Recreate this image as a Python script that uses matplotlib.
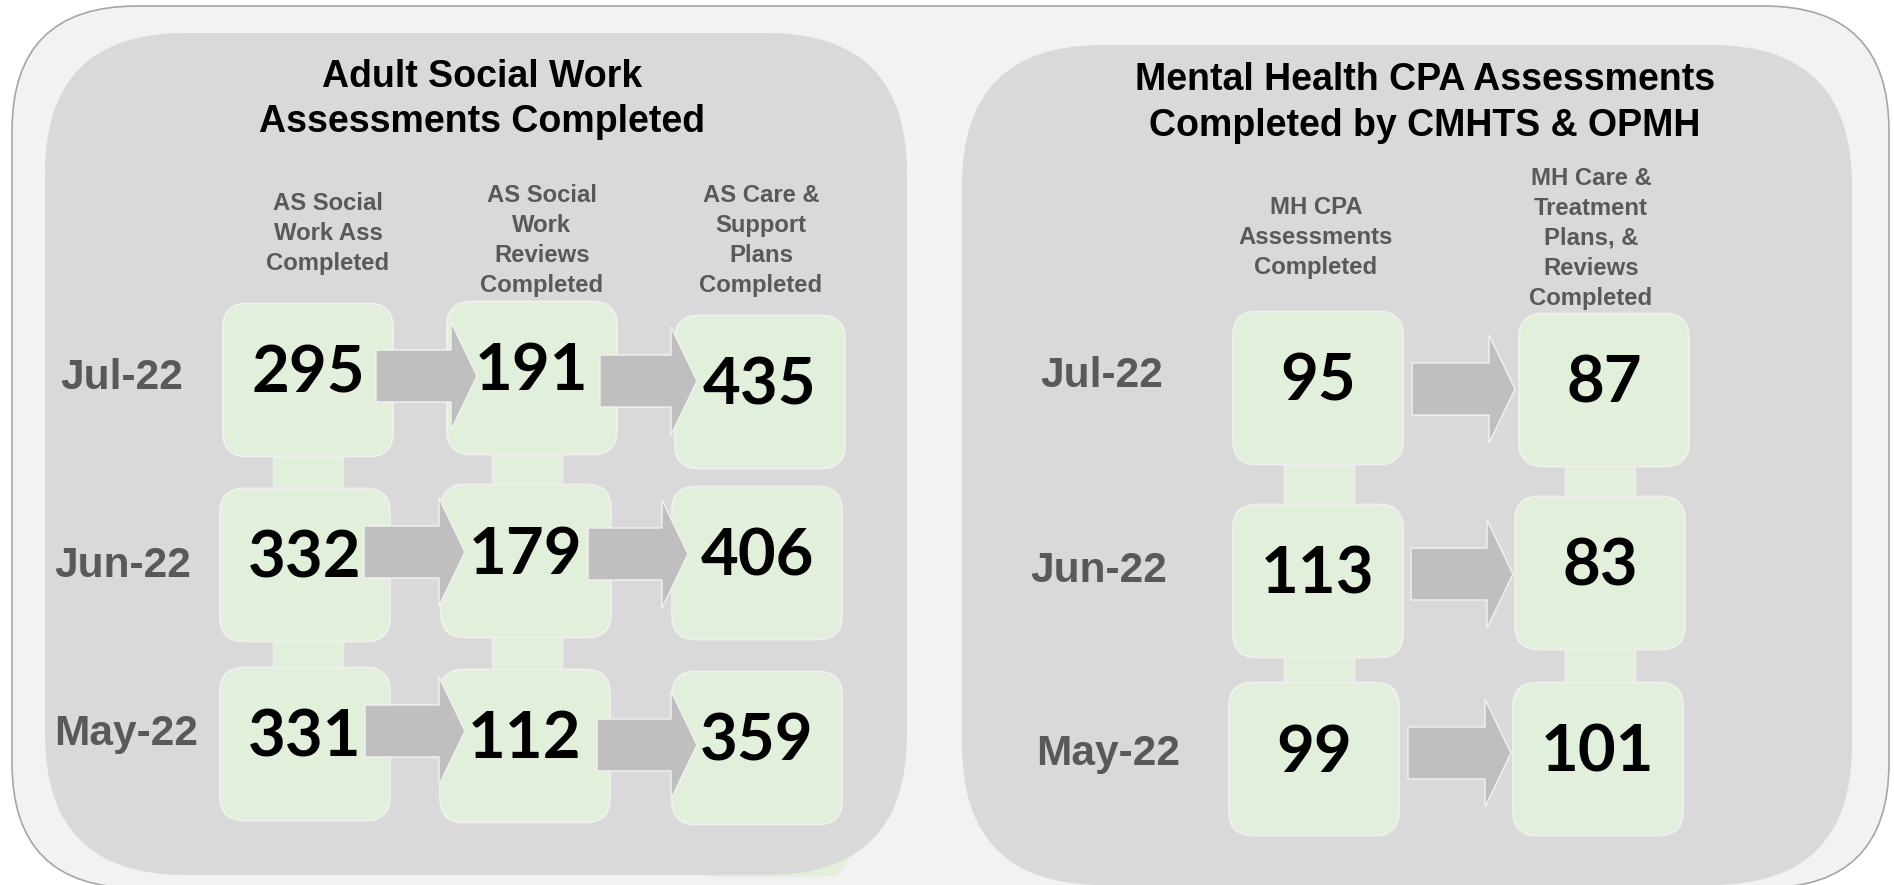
import matplotlib.pyplot as plt
from matplotlib.patches import FancyBboxPatch, Polygon, Rectangle

plt.rcParams["font.family"] = ["Liberation Sans", "DejaVu Sans"]

# ---- data ----
months = ["Jul-22", "Jun-22", "May-22"]

as_title = "Adult Social Work\nAssessments Completed"
as_headers = ["AS Social\nWork Ass\nCompleted",
              "AS Social\nWork\nReviews\nCompleted",
              "AS Care &\nSupport\nPlans\nCompleted"]
as_ass_completed = [295, 332, 331]
as_reviews_completed = [191, 179, 112]
as_plans_completed = [435, 406, 359]

mh_title = "Mental Health CPA Assessments\nCompleted by CMHTS & OPMH"
mh_headers = ["MH CPA\nAssessments\nCompleted",
              "MH Care &\nTreatment\nPlans, &\nReviews\nCompleted"]
mh_cpa_completed = [95, 113, 99]
mh_plans_completed = [87, 83, 101]

# ---- layout (pixels, y down) ----
W, H = 1894, 885
BOX_W, BOX_H = 170, 153
GREEN = "#e2efda"
PANEL = "#d9d9d9"
GREY_TXT = "#595959"
ARROW = "#bfbfbf"

as_boxes = [[(308, 380), (532, 378), (760, 392)],
            [(305, 565), (526, 561), (757, 563)],
            [(305, 744), (525, 746), (757, 748)]]
mh_boxes = [[(1318, 388), (1604, 390)],
            [(1318, 581), (1600, 573)],
            [(1314, 759), (1598, 759)]]
as_arrows = [[(376, 477, 376), (600, 697, 381)],
             [(364, 465, 552), (588, 688, 554)],
             [(365, 465, 731), (597, 697, 745)]]
mh_arrows = [[(1412, 1515, 389)],
             [(1411, 1513, 574)],
             [(1408, 1511, 753)]]
as_links_x = [308, 527]
mh_links_x = [1319, 1600]
as_head_x, as_head_y = [328, 542, 761], [210, 202, 202]
mh_head_x, mh_head_y = [1316, 1591], [214, 185]
as_month_xy = [(122, 389), (123, 577), (126, 745)]
mh_month_xy = [(1102, 387), (1099, 582), (1108, 765)]


def lines(ax, x, y0, text, step, **kw):
    # one text per line so the line step is exact
    for i, s in enumerate(text.split("\n")):
        ax.text(x, y0 + i * step, s, ha="center", va="baseline", **kw)


def rbox(ax, x0, y0, w, h, r, fc, ec="none", lw=0, z=1):
    ax.add_patch(FancyBboxPatch((x0, y0), w, h,
                                boxstyle=f"round,pad=0,rounding_size={r}",
                                fc=fc, ec=ec, lw=lw, zorder=z))


def arrow(ax, x0, tip, yc, bh=26, hh=54, hl=26):
    pts = [(x0, yc - bh), (tip - hl, yc - bh), (tip - hl, yc - hh), (tip, yc),
           (tip - hl, yc + hh), (tip - hl, yc + bh), (x0, yc + bh)]
    ax.add_patch(Polygon(pts, closed=True, fc=ARROW, ec="#f2f2f2", lw=1, zorder=5))


def panel(ax, boxes, arrows, links_x, values, heads, head_x, head_y, month_xy):
    # vertical links behind the boxes
    for r in range(len(boxes) - 1):
        for c, lx in enumerate(links_x):
            ya, yb = boxes[r][c][1], boxes[r + 1][c][1]
            ax.add_patch(Rectangle((lx - 35, ya), 70, yb - ya, fc=GREEN,
                                   ec="#eeeeee", lw=1, zorder=3))
    for r, row in enumerate(boxes):
        for c, (cx, cy) in enumerate(row):
            rbox(ax, cx - BOX_W / 2, cy - BOX_H / 2, BOX_W, BOX_H, 24,
                 GREEN, ec="#f0f0f0", lw=1.3, z=4)
            ax.text(cx, cy + 12.5, str(values[c][r]), ha="center", va="baseline",
                    fontsize=47, fontweight="bold", family="Lato", color="black",
                    zorder=6)
        for x0, tip, yc in arrows[r]:
            arrow(ax, x0, tip, yc)
    for hx, hy, txt in zip(head_x, head_y, heads):
        lines(ax, hx, hy, txt, 30, fontsize=17.2, fontweight="bold", color=GREY_TXT)
    for (mx, my), m in zip(month_xy, months):
        ax.text(mx, my, m, ha="center", va="baseline", fontsize=30.5,
                fontweight="bold", color=GREY_TXT)


fig = plt.figure(figsize=(W / 100, H / 100), dpi=100)
ax = fig.add_axes([0, 0, 1, 1])
ax.set_xlim(0, W)
ax.set_ylim(H, 0)
ax.axis("off")

# outer frame
rbox(ax, 12, 6, 1877, 882, 125, "#f2f2f2", ec="#a6a6a6", lw=1.2, z=0)
# green box peeking out under the left panel
rbox(ax, 693, 730, 155, 147, 24, GREEN, ec="#eeeeee", lw=1, z=1)
# panels
rbox(ax, 45, 33, 862, 842, 140, PANEL, z=2)
rbox(ax, 962, 45, 890, 840, 140, PANEL, z=2)

lines(ax, 482, 87, as_title, 45, fontsize=27, fontweight="bold", color="black")
lines(ax, 1425, 90, mh_title, 46, fontsize=27, fontweight="bold", color="black")

panel(ax, as_boxes, as_arrows, as_links_x,
      [as_ass_completed, as_reviews_completed, as_plans_completed],
      as_headers, as_head_x, as_head_y, as_month_xy)
panel(ax, mh_boxes, mh_arrows, mh_links_x,
      [mh_cpa_completed, mh_plans_completed],
      mh_headers, mh_head_x, mh_head_y, mh_month_xy)

fig.savefig("out.png", dpi=100, facecolor="white")
plt.close()
